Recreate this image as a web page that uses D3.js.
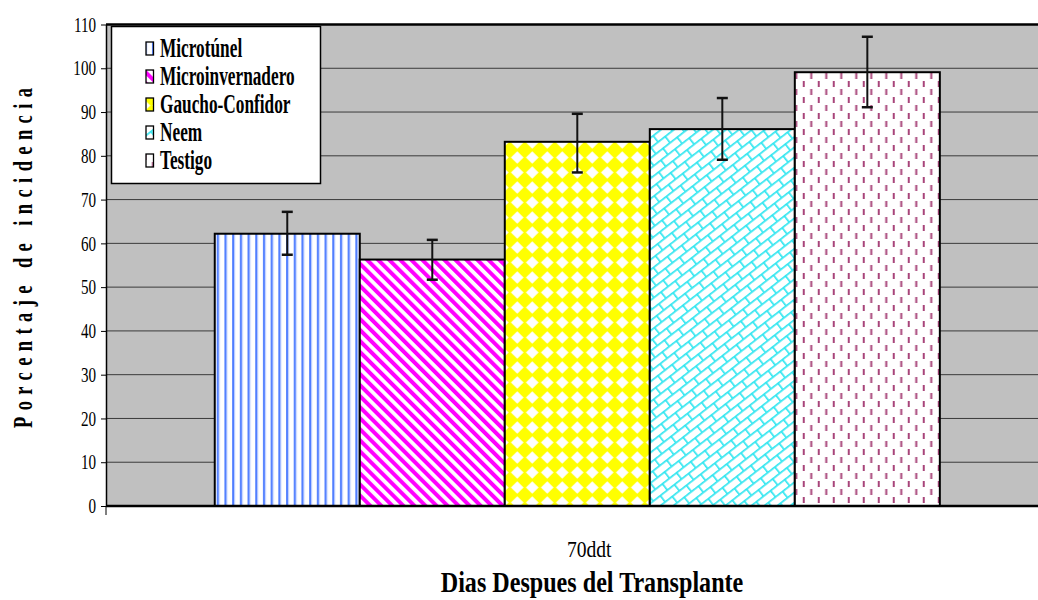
<!DOCTYPE html>
<html>
<head>
<meta charset="utf-8">
<script src="https://cdn.jsdelivr.net/npm/d3@7"></script>
<style>
  body { margin: 0; background: #fff; }
  svg { display: block; }
</style>
</head>
<body>
<svg id="chart" width="1038" height="600"></svg>
<script>
// data
var categories = ["70ddt"];
var series = ["Microtúnel", "Microinvernadero", "Gaucho-Confidor", "Neem", "Testigo"];
var values = [62.2, 56.3, 83.2, 86.1, 99.1];
var errUpper = [67.2, 60.8, 89.6, 93.2, 107.2];
var errLower = [57.4, 51.7, 76.2, 79.1, 91.1];
var yTicks = [0, 10, 20, 30, 40, 50, 60, 70, 80, 90, 100, 110];
var patternIds = ["pVert", "pDiag", "pDiamond", "pBrick", "pDash"];

var FONT = '"Liberation Serif", "Times New Roman", serif';

var svg = d3.select("#chart"),
  width = +svg.attr("width"),
  plotLeft = 106,
  plotRight = 1048.6,
  plotTop = 24.5,
  plotBottom = 506;

// ---- fill patterns
var defs = svg.append("defs");

var pv = defs.append("pattern").attr("id", "pVert")
  .attr("patternUnits", "userSpaceOnUse").attr("width", 7.7).attr("height", 8);
pv.append("rect").attr("width", 7.7).attr("height", 8).attr("fill", "#fff");
pv.append("rect").attr("x", 2).attr("width", 2).attr("height", 8).attr("fill", "#4f7dff");
pv.append("rect").attr("x", 4).attr("width", 1).attr("height", 8).attr("fill", "#b4c8ff");

var pd = defs.append("pattern").attr("id", "pDiag")
  .attr("patternUnits", "userSpaceOnUse").attr("width", 7.8).attr("height", 8)
  .attr("patternTransform", "rotate(-45)");
pd.append("rect").attr("width", 7.8).attr("height", 8).attr("fill", "#fff");
pd.append("rect").attr("width", 4).attr("height", 8).attr("fill", "#ff00ff");

var pm = defs.append("pattern").attr("id", "pDiamond")
  .attr("patternUnits", "userSpaceOnUse").attr("width", 15).attr("height", 15)
  .attr("x", 505).attr("y", 0);
pm.append("rect").attr("width", 15).attr("height", 15).attr("fill", "#ffff00");
pm.append("path").attr("d", "M7.5,1.2L13.8,7.5L7.5,13.8L1.2,7.5Z").attr("fill", "#fff");

var pb = defs.append("pattern").attr("id", "pBrick")
  .attr("patternUnits", "userSpaceOnUse").attr("width", 18).attr("height", 16)
  .attr("patternTransform", "rotate(-38)");
pb.append("rect").attr("width", 18).attr("height", 16).attr("fill", "#fff");
pb.append("rect").attr("y", 0).attr("width", 18).attr("height", 1.7).attr("fill", "#33e6f0");
pb.append("rect").attr("y", 8).attr("width", 18).attr("height", 1.7).attr("fill", "#33e6f0");
pb.append("rect").attr("x", 0).attr("y", 0).attr("width", 1.7).attr("height", 8).attr("fill", "#33e6f0");
pb.append("rect").attr("x", 9).attr("y", 8).attr("width", 1.7).attr("height", 8).attr("fill", "#33e6f0");

var pdash = defs.append("pattern").attr("id", "pDash")
  .attr("patternUnits", "userSpaceOnUse").attr("width", 15).attr("height", 16);
pdash.append("rect").attr("width", 15).attr("height", 16).attr("fill", "#fff");
pdash.append("rect").attr("x", 3).attr("y", 1).attr("width", 2).attr("height", 6).attr("fill", "#a8457a");
pdash.append("rect").attr("x", 10.5).attr("y", 9).attr("width", 2).attr("height", 6).attr("fill", "#a8457a");

// ---- scales
var y = d3.scaleLinear().domain([0, 110]).range([plotBottom, plotTop]);
var x0 = d3.scaleBand().domain(categories).range([plotLeft, plotRight]).paddingInner(0).paddingOuter(0.15);
var x1 = d3.scaleBand().domain(series).range([0, x0.bandwidth()]);

// ---- plot background + grid
svg.append("rect")
  .attr("x", plotLeft).attr("y", plotTop)
  .attr("width", width - plotLeft).attr("height", plotBottom - plotTop)
  .attr("fill", "#c0c0c0");

svg.append("g").selectAll("line")
  .data(yTicks.filter(function (d) { return d > 0 && d < 110; }))
  .join("line")
  .attr("x1", plotLeft).attr("x2", width)
  .attr("y1", function (d) { return y(d); })
  .attr("y2", function (d) { return y(d); })
  .attr("stroke", "#3a3a3a").attr("stroke-width", 1);

// top frame line
svg.append("line")
  .attr("x1", plotLeft).attr("x2", width)
  .attr("y1", y(110)).attr("y2", y(110))
  .attr("stroke", "#000").attr("stroke-width", 2.5);

// ---- bars
var group = svg.append("g").selectAll("g")
  .data(categories)
  .join("g")
  .attr("transform", function (d) { return "translate(" + x0(d) + ",0)"; });

group.selectAll("rect")
  .data(series.map(function (s, i) { return { name: s, value: values[i], i: i }; }))
  .join("rect")
  .attr("x", function (d) { return x1(d.name); })
  .attr("y", function (d) { return y(d.value); })
  .attr("width", x1.bandwidth())
  .attr("height", function (d) { return y(0) - y(d.value); })
  .attr("fill", function (d) { return "url(#" + patternIds[d.i] + ")"; })
  .attr("stroke", "#000").attr("stroke-width", 2);

// error bars
var eb = group.selectAll("g.err")
  .data(series.map(function (s, i) { return { name: s, hi: errUpper[i], lo: errLower[i] }; }))
  .join("g").attr("class", "err")
  .attr("transform", function (d) { return "translate(" + (x1(d.name) + x1.bandwidth() / 2) + ",0)"; });
eb.append("line")
  .attr("y1", function (d) { return y(d.hi); })
  .attr("y2", function (d) { return y(d.lo); })
  .attr("stroke", "#111").attr("stroke-width", 2);
eb.append("line")
  .attr("x1", -5.5).attr("x2", 5.5)
  .attr("y1", function (d) { return y(d.hi); })
  .attr("y2", function (d) { return y(d.hi); })
  .attr("stroke", "#111").attr("stroke-width", 2.5);
eb.append("line")
  .attr("x1", -5.5).attr("x2", 5.5)
  .attr("y1", function (d) { return y(d.lo); })
  .attr("y2", function (d) { return y(d.lo); })
  .attr("stroke", "#111").attr("stroke-width", 2.5);

// ---- axes
var yAxis = svg.append("g")
  .attr("transform", "translate(" + plotLeft + ",0)")
  .call(d3.axisLeft(y).tickValues(yTicks).tickSize(5).tickSizeOuter(0));
yAxis.select(".domain").attr("stroke", "#000").attr("stroke-width", 1.5);
yAxis.selectAll(".tick line").attr("stroke", "#000");
yAxis.selectAll("text")
  .attr("x", -10 / 0.72)
  .attr("transform", "scale(0.72,1)")
  .attr("fill", "#000")
  .style("font-size", "21px")
  .style("font-family", FONT);

var xAxis = svg.append("g")
  .attr("transform", "translate(0," + plotBottom + ")")
  .call(d3.axisBottom(x0).tickSize(0).tickSizeOuter(0));
xAxis.select(".domain").attr("stroke", "#000").attr("stroke-width", 2.5)
  .attr("d", "M" + plotLeft + ",0H" + width);
xAxis.selectAll("text")
  .attr("y", 0).attr("dy", 0)
  .attr("transform", "translate(12,51) scale(0.85,1)")
  .attr("fill", "#000")
  .style("font-size", "23px")
  .style("font-family", FONT);
xAxis.append("line")
  .attr("x1", plotLeft).attr("x2", plotLeft)
  .attr("y1", 0).attr("y2", 9)
  .attr("stroke", "#000").attr("stroke-width", 1);

// ---- titles
svg.append("text")
  .attr("transform", "translate(592,592) scale(0.832,1)")
  .attr("text-anchor", "middle")
  .style("font-family", FONT)
  .style("font-size", "29px").style("font-weight", "bold")
  .text("Dias Despues del Transplante");

svg.append("text")
  .attr("transform", "translate(32,258) rotate(-90) scale(0.66,1)")
  .attr("text-anchor", "middle")
  .attr("textLength", 340 / 0.66)
  .attr("lengthAdjust", "spacing")
  .style("font-family", FONT)
  .style("font-size", "28px").style("font-weight", "bold")
  .text("Porcentaje de incidencia");

// ---- legend
var legend = svg.append("g").attr("transform", "translate(111.5,26.5)");
legend.append("rect")
  .attr("width", 209).attr("height", 157)
  .attr("fill", "#fff").attr("stroke", "#000").attr("stroke-width", 1.5);

var item = legend.selectAll("g.item")
  .data(series)
  .join("g").attr("class", "item")
  .attr("transform", function (d, i) { return "translate(0," + (30.5 + i * 28) + ")"; });
item.append("rect")
  .attr("x", 34.5).attr("y", -15)
  .attr("width", 7.5).attr("height", 13)
  .attr("fill", function (d, i) { return "url(#" + patternIds[i] + ")"; })
  .attr("stroke", "#000").attr("stroke-width", 1.3);
item.append("text")
  .attr("transform", "translate(48.5,0) scale(0.64,1)")
  .style("font-family", FONT)
  .style("font-size", "27px").style("font-weight", "bold")
  .text(function (d) { return d; });
</script>
</body>
</html>
